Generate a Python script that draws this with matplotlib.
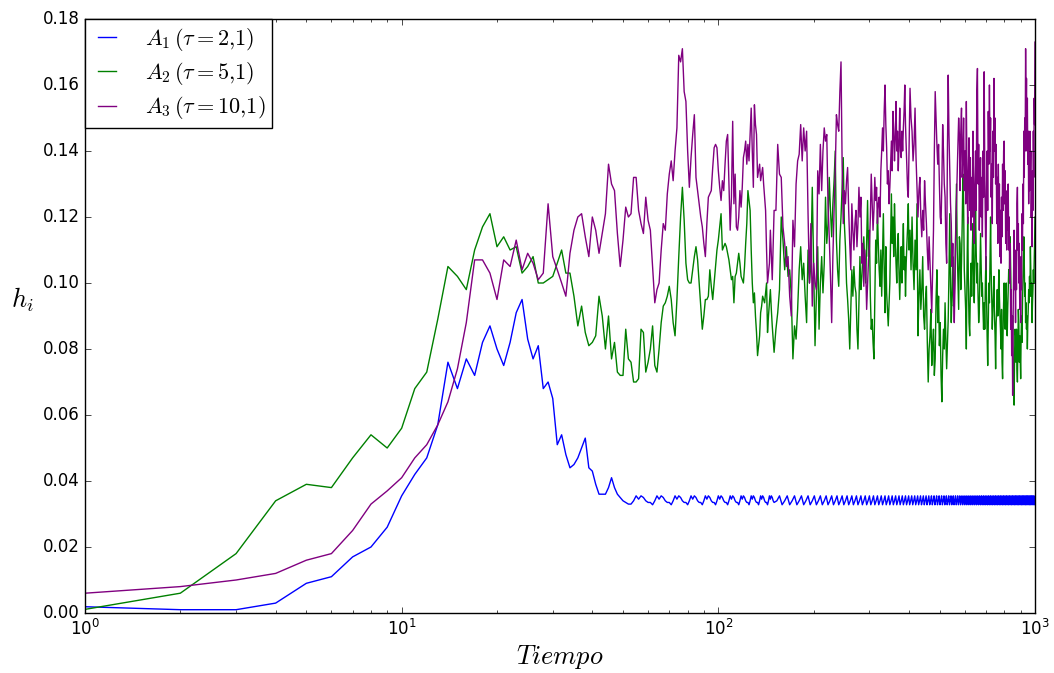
import matplotlib
matplotlib.use('Agg')
import matplotlib.pyplot as plt
import numpy as np
from matplotlib.ticker import MultipleLocator, FormatStrFormatter

# ---------------- data (h_i values in units of 1e-3) ----------------
t_early = np.arange(1, 151)          # every time step 1..150
t_mid = np.arange(152, 401, 2)       # A2/A3 sampled steps 152..400
t_late = np.arange(403, 1001, 3)     # A2/A3 sampled steps 403..1000
t_blue_late = np.arange(153, 1000, 3)  # A1 sampled steps 153..999

blue_early = [
    1.9, 1, 1, 3, 9, 11, 17, 20, 26, 35.5,
    42, 47, 57, 76, 68, 77, 72, 82, 87, 80,
    75, 82, 91, 95, 83, 77, 81, 68, 70, 65,
    51, 54, 48, 44, 45, 47, 50, 53, 44, 43,
    39, 36, 36, 36, 38, 41, 38, 36, 35, 34,
    33.5, 33, 33, 34, 35.5, 34.5, 35.5, 35, 34, 33.5,
    33.5, 32.8, 34, 35.5, 34.5, 35.5, 35, 34, 33.5, 33.5,
    32.8, 34, 35.5, 34.5, 35.5, 35, 34, 33.5, 33.5, 32.8,
    34, 35.5, 34.5, 35.5, 35, 34, 33.5, 33.5, 32.8, 34,
    35.5, 34.5, 35.5, 35, 34, 33.5, 33.5, 32.8, 34, 35.5,
    34.5, 35.5, 35, 34, 33.5, 33.5, 32.8, 34, 35.5, 34.5,
    35.5, 35, 34, 33.5, 33.5, 32.8, 34, 35.5, 34.5, 35.5,
    35, 34, 33.5, 33.5, 32.8, 34, 35.5, 34.5, 35.5, 35,
    34, 33.5, 33.5, 32.8, 34, 35.5, 34.5, 35.5, 35, 34,
    33.5, 33.5, 32.8, 34, 35.5, 34.5, 35.5, 35, 34, 33.5,
]
blue_late = [
    34, 35.5, 32.8, 34, 35.5, 32.8, 34, 35.5, 32.8, 34, 35.5, 32.8, 34, 35.5, 32.8,
    34, 35.5, 32.8, 34, 35.5, 32.8, 34, 35.5, 32.8, 34, 35.5, 32.8, 34, 35.5, 32.8,
    34, 35.5, 32.8, 34, 35.5, 32.8, 34, 35.5, 32.8, 34, 35.5, 32.8, 34, 35.5, 32.8,
    34, 35.5, 32.8, 34, 35.5, 32.8, 34, 35.5, 32.8, 34, 35.5, 32.8, 34, 35.5, 32.8,
    34, 35.5, 32.8, 34, 35.5, 32.8, 34, 35.5, 32.8, 34, 35.5, 32.8, 34, 35.5, 32.8,
    34, 35.5, 32.8, 34, 35.5, 32.8, 34, 35.5, 32.8, 34, 35.5, 32.8, 34, 35.5, 32.8,
    34, 35.5, 32.8, 34, 35.5, 32.8, 34, 35.5, 32.8, 34, 35.5, 32.8, 34, 35.5, 32.8,
    34, 35.5, 32.8, 34, 35.5, 32.8, 34, 35.5, 32.8, 34, 35.5, 32.8, 34, 35.5, 32.8,
    34, 35.5, 32.8, 34, 35.5, 32.8, 34, 35.5, 32.8, 34, 35.5, 32.8, 34, 35.5, 32.8,
    34, 35.5, 32.8, 34, 35.5, 32.8, 34, 35.5, 32.8, 34, 35.5, 32.8, 34, 35.5, 32.8,
    34, 35.5, 32.8, 34, 35.5, 32.8, 34, 35.5, 32.8, 34, 35.5, 32.8, 34, 35.5, 32.8,
    34, 35.5, 32.8, 34, 35.5, 32.8, 34, 35.5, 32.8, 34, 35.5, 32.8, 34, 35.5, 32.8,
    34, 35.5, 32.8, 34, 35.5, 32.8, 34, 35.5, 32.8, 34, 35.5, 32.8, 34, 35.5, 32.8,
    34, 35.5, 32.8, 34, 35.5, 32.8, 34, 35.5, 32.8, 34, 35.5, 32.8, 34, 35.5, 32.8,
    34, 35.5, 32.8, 34, 35.5, 32.8, 34, 35.5, 32.8, 34, 35.5, 32.8, 34, 35.5, 32.8,
    34, 35.5, 32.8, 34, 35.5, 32.8, 34, 35.5, 32.8, 34, 35.5, 32.8, 34, 35.5, 32.8,
    34, 35.5, 32.8, 34, 35.5, 32.8, 34, 35.5, 32.8, 34, 35.5, 32.8, 34, 35.5, 32.8,
    34, 35.5, 32.8, 34, 35.5, 32.8, 34, 35.5, 32.8, 34, 35.5, 32.8, 34, 35.5, 32.8,
    34, 35.5, 32.8, 34, 35.5, 32.8, 34, 35.5, 32.8, 34, 35.5, 32.8,
    34,
]

green_early = [
    1.1, 6, 18, 34, 39, 38, 47, 54, 50, 56,
    68, 73, 89, 105, 102, 98, 110, 117, 121, 111,
    114, 110, 111, 103, 105, 108, 100, 100, 101, 102,
    106, 110, 103, 103, 96, 87, 93, 85, 81, 82,
    84, 96, 90, 80, 90, 77, 82, 73, 72, 72,
    86, 77, 76, 70, 70, 71, 86, 85, 73, 76,
    80, 87, 75, 73, 80, 88, 93, 94, 96, 99,
    95, 88, 84, 95, 108, 120, 129, 119, 106, 101,
    100, 100, 104, 108, 111, 107, 100, 93, 86, 90,
    95, 95, 96, 104, 99, 95, 100, 105, 110, 113,
    117, 121, 110, 111, 112, 111, 109, 107, 104, 101,
    102, 94, 102, 103, 106, 109, 106, 102, 101, 100,
    105, 112, 118, 128, 125, 122, 110, 100, 94, 97,
    90, 85, 78, 81, 84, 91, 93, 96, 95, 94,
    97, 100, 85, 90, 94, 98, 92, 87, 83, 79,
]
green_mid = [
    86, 91, 98, 120, 113, 104, 111, 102, 104, 96,
    77, 87, 83, 92, 104, 111, 101, 106, 96, 88,
    110, 100, 106, 129, 104, 81, 96, 111, 86, 100,
    108, 97, 106, 126, 112, 118, 132, 122, 114, 124,
    131, 140, 113, 104, 99, 113, 120, 129, 138, 118,
    111, 100, 95, 89, 80, 92, 104, 96, 105, 99,
    97, 86, 80, 94, 108, 98, 102, 108, 114, 106,
    100, 112, 125, 108, 116, 96, 86, 89, 82, 77,
    94, 113, 106, 122, 112, 104, 99, 110, 96, 108,
    121, 104, 91, 111, 97, 92, 87, 94, 100, 114,
    127, 112, 120, 108, 124, 114, 106, 100, 110, 115,
    103, 95, 104, 111, 100, 110, 118, 104, 108, 96,
    106, 112, 117, 124, 110,
]
green_late = [
    116, 104, 120, 106, 98, 113, 104, 124, 84, 96,
    104, 92, 98, 108, 90, 86, 95, 99, 82, 70,
    80, 84, 92, 75, 81, 86, 72, 77, 95, 104,
    88, 96, 81, 88, 72, 64, 78, 86, 80, 94,
    83, 74, 82, 89, 103, 121, 99, 88, 97, 108,
    93, 96, 104, 117, 130, 110, 101, 92,
    114, 112, 98, 106, 118, 133, 124, 104, 98, 92,
    80, 104, 120, 100, 88, 84, 98, 106, 96, 110,
    118, 100, 94, 108, 123, 110, 100, 106, 96, 88,
    92, 104, 115, 106, 96, 100, 92, 86, 94, 86,
    100, 108, 96, 84, 75, 88, 100, 94, 108, 120,
    104, 96, 86, 92, 96, 102, 90, 84, 74, 88,
    92, 98, 90, 96, 104, 96, 90, 86, 80, 92,
    76, 71, 86, 94, 100, 92, 86, 95, 100, 89,
    84, 92, 98, 104, 100, 108, 114, 104, 94, 88,
    82, 90, 76, 72, 63, 78, 86, 84, 76, 86,
    74, 70, 80, 92, 88, 76, 84, 78, 71, 84,
    90, 82, 94, 100, 108, 114, 106, 96, 100, 88,
    94, 86, 90, 80, 88, 92, 98, 94, 102, 96,
    111, 104, 96, 100, 88, 94, 98, 104, 100, 106,
    112, 120,
]

purple_early = [
    6, 8, 10, 12, 16, 18, 25, 33, 37, 41,
    47, 51, 57, 64, 74, 88, 107, 107, 103, 95,
    107, 105, 113, 104, 109, 106, 101, 103, 124, 108,
    104, 100, 96, 109, 116, 120, 121, 114, 108, 120,
    116, 109, 115, 121, 136, 130, 128, 115, 105, 113,
    123, 120, 121, 132, 132, 122, 118, 115, 126, 119,
    116, 105, 94, 98, 100, 110, 118, 116, 127, 133,
    137, 131, 140, 147, 169, 167, 171, 158, 155, 140,
    129, 138, 145, 151, 132, 128, 124, 120, 117, 112,
    108, 118, 126, 127, 128, 135, 141, 142, 141, 134,
    129, 125, 131, 128, 136, 143, 145, 130, 116, 126,
    149, 124, 133, 117, 116, 120, 128, 123, 129, 138,
    140, 143, 136, 142, 137, 145, 153, 140, 129, 154,
    148, 145, 132, 134, 136, 131, 133, 135, 130, 126,
    122, 110, 100, 103, 106, 116, 108, 101, 112, 122,
]
purple_mid = [
    122, 142, 133, 132, 117, 112, 105, 108, 96, 90,
    119, 111, 130, 137, 139, 148, 137, 147, 140, 146,
    121, 100, 118, 93, 106, 100, 98, 134, 127, 142,
    128, 140, 147, 143, 145, 124, 114, 102, 88, 108,
    122, 134, 151, 148, 146, 158, 167, 136, 118, 128,
    124, 131, 135, 122, 112, 104, 124, 116, 110, 118,
    122, 111, 118, 129, 120, 126, 106, 112, 99, 110,
    104, 92, 100, 107, 111, 120, 133, 124, 116, 122,
    132, 125, 129, 118, 124, 126, 120, 134, 140, 147,
    140, 152, 160, 148, 141, 130, 134, 124, 129, 136,
    143, 134, 152, 146, 137, 144, 155, 140, 146, 134,
    142, 153, 140, 138, 146, 140, 147, 152, 160, 148,
    141, 134, 128, 126, 140,
]
purple_late = [
    159, 150, 146, 137, 142, 153, 138, 129, 120, 128,
    132, 120, 114, 122, 116, 131, 124, 118, 110, 104,
    114, 106, 98, 91, 104, 116, 140, 158, 150, 142,
    136, 142, 130, 120, 118, 130, 148, 140, 130, 126,
    112, 106, 140, 163, 145, 134, 124, 118, 105, 112,
    98, 88, 100, 116, 125, 134, 142, 150,
    145, 128, 146, 153, 132, 138, 150, 128, 140, 124,
    155, 132, 118, 134, 144, 122, 138, 116, 132, 120,
    146, 126, 112, 130, 140, 122, 158, 165, 130, 142,
    116, 130, 138, 120, 132, 114, 140, 126, 164, 134,
    118, 104, 128, 140, 122, 152, 136, 160, 140, 150,
    126, 136, 118, 146, 132, 162, 140, 150, 130, 142,
    118, 132, 112, 136, 120, 130, 108, 122, 106, 126,
    114, 136, 122, 140, 143, 124, 134, 112, 126, 110,
    128, 116, 130, 110, 120, 100, 112, 86, 98, 78,
    90, 66, 90, 104, 116, 98, 108, 88, 110, 98,
    124, 129, 110, 118, 100, 112, 92, 104, 88, 108,
    98, 121, 110, 130, 118, 146, 132, 150, 140, 171,
    150, 162, 140, 156, 136, 146, 124, 136, 128, 146,
    132, 140, 120, 130, 111, 134, 122, 146, 132, 156,
    148, 173,
]

labels = [r'$A_1\,(\tau=2{,}1)$', r'$A_2\,(\tau=5{,}1)$', r'$A_3\,(\tau=10{,}1)$']
colors = ['#0000ff', '#008000', '#800080']

# ---------------- plotting ----------------
plt.style.use('classic')
plt.rcParams['mathtext.fontset'] = 'cm'
plt.rcParams['figure.facecolor'] = 'white'
plt.rcParams['savefig.facecolor'] = 'white'

t_blue = np.concatenate([t_early, t_blue_late])
t_noisy = np.concatenate([t_early, t_mid, t_late])
assert len(blue_early) == len(t_early) and len(blue_late) == len(t_blue_late), (len(blue_early), len(blue_late))
for name, parts in [('green', (green_early, green_mid, green_late)),
                    ('purple', (purple_early, purple_mid, purple_late))]:
    assert [len(p) for p in parts] == [len(t_early), len(t_mid), len(t_late)], (name, [len(p) for p in parts])

curves = [
    (t_blue, np.concatenate([blue_early, blue_late]) / 1000.0),
    (t_noisy, np.concatenate([green_early, green_mid, green_late]) / 1000.0),
    (t_noisy, np.concatenate([purple_early, purple_mid, purple_late]) / 1000.0),
]

fig = plt.figure(figsize=(10.54, 6.73), dpi=100)
ax = fig.add_axes([85 / 1054, 1 - 613 / 673, 950 / 1054, 594 / 673])

for (x, y), c, lab in zip(curves, colors, labels):
    ax.plot(x, y, color=c, lw=1.0, label=lab)

ax.set_xscale('log')
ax.set_xlim(1, 1000)
ax.set_ylim(0, 0.18)
ax.yaxis.set_major_locator(MultipleLocator(0.02))
ax.yaxis.set_major_formatter(FormatStrFormatter('%.2f'))
ax.tick_params(labelsize=12)

ax.set_xlabel(r'$Tiempo$', fontsize=19)
ax.xaxis.set_label_coords(0.5, -0.074)
ax.xaxis.label.set_va('center')
ax.set_ylabel(r'$h_i$', fontsize=19, rotation=0)
ax.yaxis.set_label_coords(-0.066, 0.527)
ax.yaxis.label.set_va('center')
ax.yaxis.label.set_ha('center')

leg = ax.legend(loc='upper left', borderaxespad=0, fontsize=16, handlelength=1.4,
                fancybox=False, framealpha=1, labelspacing=0.33, handletextpad=1.0,
                borderpad=0.3)
leg.get_frame().set_edgecolor('black')
leg.get_frame().set_linewidth(1.0)

fig.savefig('out.png', dpi=100)
